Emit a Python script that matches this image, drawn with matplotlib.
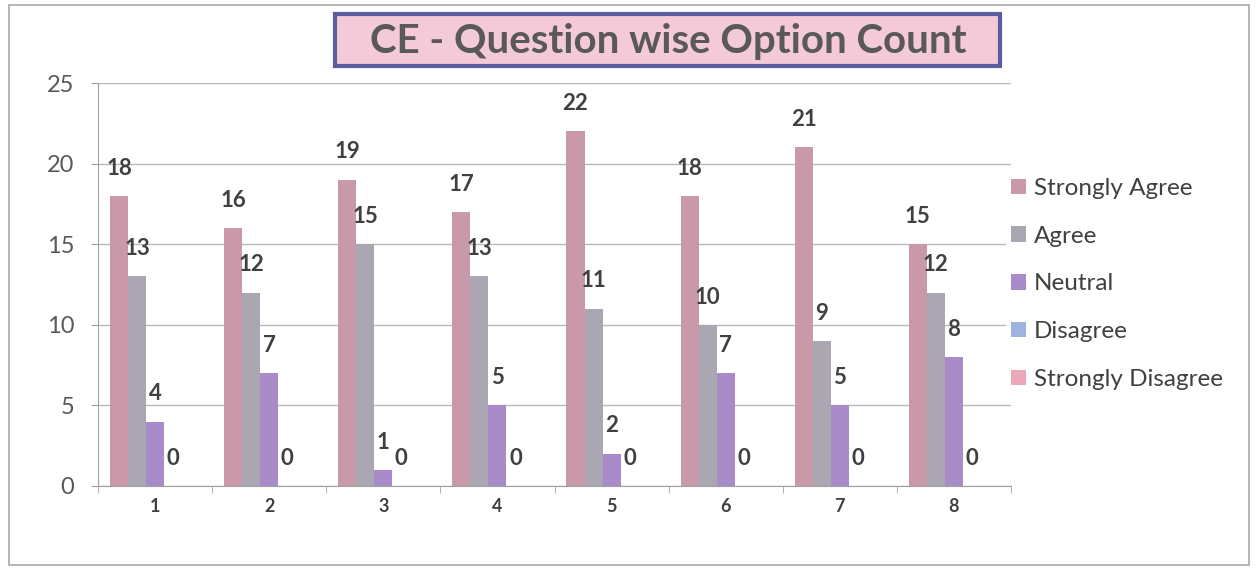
import numpy as np
import matplotlib.pyplot as plt
from matplotlib.patches import Rectangle

plt.rcParams['font.family'] = ['Lato', 'DejaVu Sans']

questions = ['1', '2', '3', '4', '5', '6', '7', '8']
series = ['Strongly Agree', 'Agree', 'Neutral', 'Disagree', 'Strongly Disagree']
strongly_agree = [18, 16, 19, 17, 22, 18, 21, 15]
agree = [13, 12, 15, 13, 11, 10, 9, 12]
neutral = [4, 7, 1, 5, 2, 7, 5, 8]
disagree = [0, 0, 0, 0, 0, 0, 0, 0]
strongly_disagree = [0, 0, 0, 0, 0, 0, 0, 0]
yticks = [0, 5, 10, 15, 20, 25]

values = [strongly_agree, agree, neutral, disagree, strongly_disagree]
colors = ['#c999aa', '#aaa6b2', '#a88bc8', '#9fb3e0', '#eaa9bb']
show_labels = [True, True, True, True, False]

fig = plt.figure(figsize=(12.57, 5.68), dpi=100)
ax = fig.add_axes([98 / 1257, 82 / 568, 913 / 1257, 403 / 568])

x = np.arange(len(questions))
w = 0.158
for i, (name, vals) in enumerate(zip(series, values)):
    pos = x + (i - 2) * w
    ax.bar(pos, vals, width=w, color=colors[i], label=name, zorder=2)
    if show_labels[i]:
        for px, v in zip(pos, vals):
            ax.annotate(str(v), (px, v), xytext=(0, 20), textcoords='offset points',
                        ha='center', va='center', fontsize=16, fontweight='bold',
                        color='#404040')

ax.set_xlim(-0.5, len(questions) - 0.5)
ax.set_ylim(0, 25)
ax.set_yticks(yticks)
ax.set_yticklabels([str(t) for t in yticks], fontsize=17, color='#595959')
ax.set_xticks(x)
ax.set_xticklabels(questions, fontsize=13, fontweight='bold', color='#404040')
ax.tick_params(axis='x', length=0, pad=9)
ax.tick_params(axis='y', length=5, color='#a0a0a0', pad=12)
ax.set_xticks(np.arange(-0.5, len(questions)), minor=True)
ax.tick_params(axis='x', which='minor', length=5, color='#a0a0a0')
ax.grid(axis='y', color='#b8b8b8', linewidth=1, zorder=0)
for s in ['top', 'right']:
    ax.spines[s].set_visible(False)
ax.spines['left'].set_color('#a0a0a0')
ax.spines['bottom'].set_color('#a0a0a0')

leg = fig.legend(loc='upper left', bbox_to_anchor=(994 / 1257, 1 - 161 / 568),
                 frameon=True, fontsize=17.5, handlelength=0.6, handleheight=0.6,
                 handletextpad=0.35, labelspacing=1.1, borderpad=0.2, framealpha=1)
leg.get_frame().set_edgecolor('none')
for t in leg.get_texts():
    t.set_color('#404040')

# title box
fig.patches.append(Rectangle((335 / 1257, 1 - 66 / 568), 665 / 1257, 52 / 568,
                             transform=fig.transFigure, facecolor='#f5cad8',
                             edgecolor='#5c5ca0', linewidth=3, zorder=5))
fig.text(668 / 1257, 1 - 41 / 568, 'CE - Question wise Option Count', ha='center',
         va='center', fontsize=29, fontweight='bold', color='#595959', zorder=6)

# outer chart border
fig.patches.append(Rectangle((9 / 1257, 3 / 568), 1240 / 1257, 560 / 568,
                             transform=fig.transFigure, facecolor='none',
                             edgecolor='#a8a8a8', linewidth=1.2))

fig.savefig('out.png', dpi=100)
